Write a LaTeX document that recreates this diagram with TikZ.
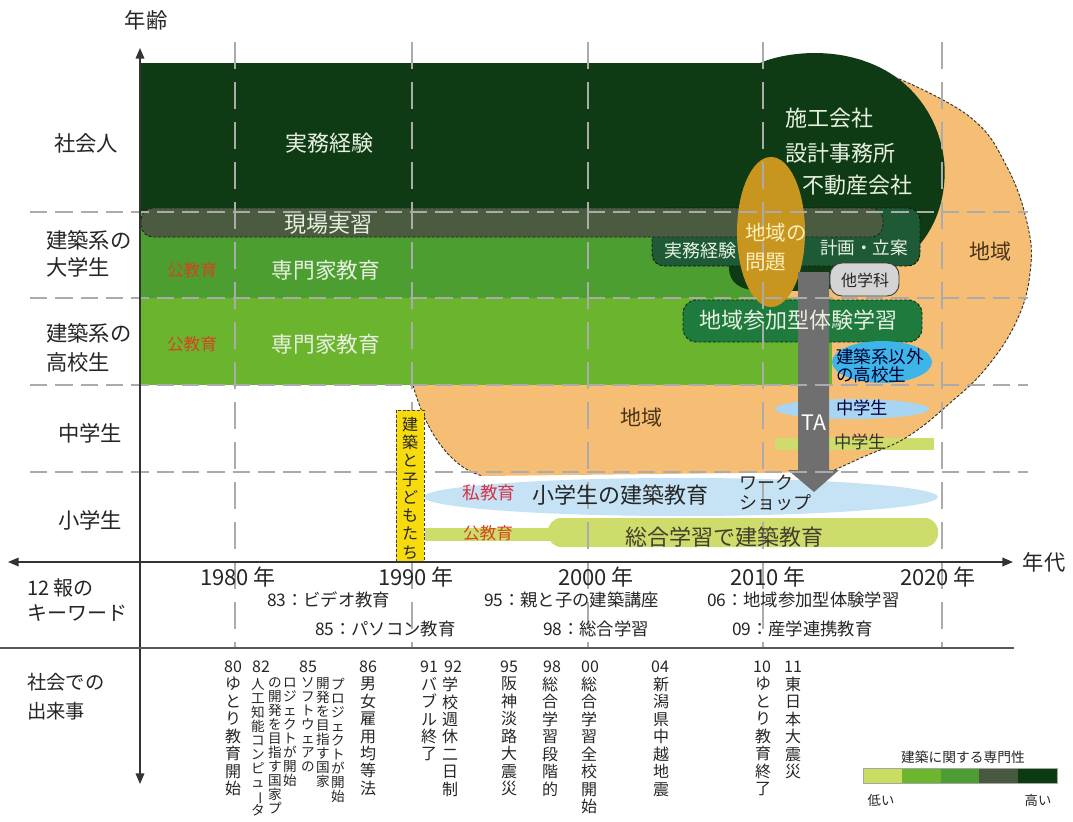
\documentclass[tikz,border=0pt]{standalone}
\usepackage{fontspec}
\setmainfont{Noto Sans CJK JP}
\usepackage{graphicx}
\usetikzlibrary{arrows.meta}
\ExplSyntaxOn
\seq_new:N \l_vt_seq
\NewDocumentCommand\vtext{m}
 {
  \seq_clear:N \l_vt_seq
  \tl_map_inline:nn {#1}
   {
    \str_if_eq:nnTF {##1} {ー}
     { \seq_put_right:Nn \l_vt_seq { \raisebox{0pt}[0.8em][0.1em]{\rotatebox[origin=c]{-90}{ー}} } }
     { \seq_put_right:Nn \l_vt_seq {##1} }
   }
  \seq_use:Nn \l_vt_seq { \\ }
 }
\ExplSyntaxOff
\definecolor{dkg}{HTML}{0E3B14}
\definecolor{gensh}{HTML}{4A5B40}
\definecolor{jitsu}{HTML}{1E5A36}
\definecolor{midg}{HTML}{4C9E30}
\definecolor{ltg}{HTML}{6BB52E}
\definecolor{chiik}{HTML}{1F7A3E}
\definecolor{orng}{HTML}{F6BE74}
\definecolor{gold}{HTML}{C8961F}
\definecolor{arrg}{HTML}{6F6F6F}
\definecolor{blu}{HTML}{3DB5E8}
\definecolor{ltblu}{HTML}{A8D5F1}
\definecolor{paleblu}{HTML}{C6E3F6}
\definecolor{ylg}{HTML}{CDDC6A}
\definecolor{yel}{HTML}{F7DB0C}
\definecolor{redA}{HTML}{D2451E}
\definecolor{redB}{HTML}{D6334A}
\definecolor{wtxt}{HTML}{E8F0E2}
\definecolor{paley}{HTML}{FBEEBB}
\definecolor{gridc}{HTML}{ABABAB}
\definecolor{txt}{HTML}{262626}
\definecolor{axc}{HTML}{333333}
\definecolor{brtx}{HTML}{4A3418}
\definecolor{lg1}{HTML}{C9DD62}
\definecolor{lg2}{HTML}{6CB52F}
\definecolor{lg3}{HTML}{4C9D33}
\definecolor{lg4}{HTML}{475A3F}
\definecolor{lg5}{HTML}{0C3B12}
\tikzset{
  every node/.style={inner sep=0pt, outer sep=0pt},
  fz/.style={font=\fontsize{#1}{#1}\selectfont},
  gridh/.style={draw=gridc, line width=1.1pt, dash pattern=on 13pt off 6pt},
  gridv/.style={draw=gridc, line width=1.1pt, dash pattern=on 20pt off 10pt},
  bdr/.style={dash pattern=on 2.2pt off 1.4pt, line width=0.7pt},
  axisl/.style={draw=axc, line width=1.1pt},
  tip/.style={{Triangle[length=8pt,width=6.5pt]}-{Triangle[length=8pt,width=6.5pt]}},
  vcol/.style={align=center, anchor=north, text=txt, font=\fontsize{12pt}{13.1pt}\selectfont},
  vcols/.style={align=center, anchor=north, text=txt, font=\fontsize{10.2pt}{10.5pt}\selectfont},
  num/.style={text=txt, font=\fontsize{12pt}{12pt}\selectfont},
  kw/.style={text=txt, anchor=west, font=\fontsize{13pt}{13pt}\selectfont},
}
\begin{document}
\begin{tikzpicture}[x=0.75pt,y=-0.75pt]
\useasboundingbox (0,0) rectangle (1073,821);
\fill[white] (0,0) rectangle (1073,821);

% orange region
\fill[orng] (413,385) .. controls (425,430) and (450,468) .. (483,476) -- (830,472)
  -- plot[smooth, tension=0.7] coordinates {(830,472) (863,457) (907,437) (950,403) (987,367) (1017,320) (1030,273) (1028,227) (1007,167) (970,117) (897,78)}
  -- (800,120) -- (413,300) -- cycle;

% bands
\fill[midg] (140,212) rectangle (760,298);
\fill[ltg] (140,298) rectangle (832,385);
\fill[dkg] (140,63) rectangle (790,212);
\fill[dkg] (760,63) .. controls (785,52) and (850,42) .. (900,80)
  .. controls (935,108) and (948,150) .. (944,185)
  .. controls (940,225) and (918,255) .. (885,272)
  .. controls (860,285) and (830,291) .. (800,291)
  -- (752,290) .. controls (735,288) and (728,278) .. (729,265) -- (730,212) -- cycle;
\filldraw[fill=jitsu, draw=black!70!jitsu, bdr, rounded corners=9pt] (652,208) rectangle (920,266);
\filldraw[fill=gensh, draw=black!60!gensh, bdr, rounded corners=9pt] (141,208) rectangle (883,237);
\filldraw[fill=chiik, draw=black!60!chiik, bdr, rounded corners=10pt] (683,300) rectangle (922,342);
\fill[gold] (771,232) ellipse [x radius=34, y radius=75];
\filldraw[fill=black!17, draw=black!75, line width=0.7pt, rounded corners=9pt] (830,263) rectangle (899,296);
\fill[blu] (882,362) ellipse [x radius=50, y radius=21];
\fill[ltblu] (852,409) ellipse [x radius=77, y radius=10];
\fill[ylg] (775,438) rectangle (934,450);

% orange borders
\draw[bdr, black!80] (413,385) .. controls (425,430) and (450,468) .. (483,476);
\draw[bdr, black!80] plot[smooth, tension=0.7] coordinates {(830,472) (863,457) (907,437) (950,403) (987,367) (1017,320) (1030,273) (1028,227) (1007,167) (970,117) (897,78)};

% elementary
\fill[paleblu] (681,497) ellipse [x radius=257, y radius=19];
\fill[ylg] (425,528) rectangle (560,541);
\fill[ylg, rounded corners=10pt] (548,518) rectangle (938,547);

% TA arrow
\fill[arrg] (798,272) -- (829,272) -- (829,470) -- (839,470) -- (814,492) -- (788,470) -- (798,470) -- cycle;

% grid
\foreach \y in {212,298,385,472} \draw[gridh] (30,\y) -- (1028,\y);
\foreach \x in {235,412,588,763,942} \draw[gridv] (\x,42) -- (\x,648);

% yellow box
\filldraw[fill=yel, draw=black!75, bdr] (396,410) rectangle (424,562);

% axes
\coordinate (ytop) at (140,48);
\coordinate (ybot) at (140,784);
\coordinate (xl) at (8,562);
\coordinate (xr) at (1013,562);
\coordinate (s1) at (0,648);
\coordinate (s2) at (1014,648);
\draw[axisl, tip] (ybot) -- (ytop);
\draw[axisl, tip] (xl) -- (xr);
\draw[axisl, black!65] (s1) -- (s2);

% axis labels
\node (yl) [fz=16pt, text=txt] at (146,20) {年齢};
\node (xlab) [fz=16pt, text=txt] at (1044,562) {年代};

% row labels
\node (r1) [fz=16pt, text=txt] at (86,143) {社会人};
\node (r2) [anchor=west, align=left, text=txt, font=\fontsize{16pt}{20.5pt}\selectfont] at (46,254) {建築系の\\大学生};
\node (r3) [anchor=west, align=left, text=txt, font=\fontsize{16pt}{21.5pt}\selectfont] at (46,348) {建築系の\\高校生};
\node (r4) [fz=16pt, text=txt] at (90,433) {中学生};
\node (r5) [fz=16pt, text=txt] at (90,520) {小学生};

% texts in bands
\node (jm1) [fz=16.5pt, text=wtxt] at (329,143) {実務経験};
\node (gj) [fz=16.5pt, text=wtxt] at (328,224) {現場実習};
\node (sk1) [fz=16.25pt, text=wtxt] at (326,270) {専門家教育};
\node (sk2) [fz=16.25pt, text=wtxt] at (326,344) {専門家教育};
\node (kk1) [fz=12.5pt, text=redA] at (192,270) {公教育};
\node (kk2) [fz=12.5pt, text=redA] at (192,344) {公教育};
\node (c1) [fz=16.5pt, text=wtxt, anchor=west] at (785,118) {施工会社};
\node (c2) [fz=16.5pt, text=wtxt, anchor=west] at (785,153) {設計事務所};
\node (c3) [fz=16.5pt, text=wtxt, anchor=west] at (802,185) {不動産会社};
\node (mon) [anchor=west, align=left, text=paley, font=\fontsize{15.4pt}{21.75pt}\selectfont] at (745,247.5) {地域の\\問題};
\node (kei) [fz=13.2pt, text=wtxt] at (864,248) {計画・立案};
\node (jm2) [fz=13.5pt, text=wtxt] at (700,251) {実務経験};
\node (ta) [fz=12pt, text=txt] at (865,280) {他学科};
\node (ch1) [fz=15.75pt, text=brtx] at (990,252) {地域};
\node (sanka) [fz=16.5pt, text=wtxt] at (798,320) {地域参加型体験学習};
\node (nonarch) [anchor=west, align=left, text=black!80!blue, font=\fontsize{13.2pt}{11.5pt}\selectfont] at (836,365.5) {建築系以外\\の高校生};
\node (ms1) [fz=13pt, text=black!75!blue, anchor=west] at (836,408) {中学生};
\node (ms2) [fz=13pt, text=black!80!olive, anchor=west] at (834,442) {中学生};
\node (talab) [fz=16pt, text=white] at (814,423) {TA};
\node (ch2) [fz=15.75pt, text=brtx] at (641,418) {地域};
\node (shi) [fz=13.25pt, text=redB] at (489,493) {私教育};
\node (elem) [fz=16.5pt, text=txt] at (620,495) {小学生の建築教育};
\node (ws) [anchor=west, align=left, text=txt, font=\fontsize{13.5pt}{15pt}\selectfont] at (739,493) {ワーク\\ショップ};
\node (kk3) [fz=12.5pt, text=redA] at (488,533) {公教育};
\node (sogo) [fz=16.5pt, text=black!70!olive] at (724,537) {総合学習で建築教育};
\node (kodomo) [align=center, text=txt, font=\fontsize{12pt}{13.7pt}\selectfont] at (410,488) {\vtext{建築と子どもたち}};

% years
\node (y80) [fz=16.5pt, text=txt] at (238,577) {1980 年};
\node (y90) [fz=16.5pt, text=txt] at (416,577) {1990 年};
\node (y00) [fz=16.5pt, text=txt] at (596,577) {2000 年};
\node (y10) [fz=16.5pt, text=txt] at (768,577) {2010 年};
\node (y20) [fz=16.5pt, text=txt] at (938,577) {2020 年};

% keyword section
\node (kwlab) [anchor=west, align=left, text=txt, font=\fontsize{15pt}{19pt}\selectfont] at (27,600) {12 報の\\キーワード};
\node (k83) [kw] at (267,600) {83：ビデオ教育};
\node (k85) [kw] at (315,629) {85：パソコン教育};
\node (k95) [kw] at (484,600) {95：親と子の建築講座};
\node (k98) [kw] at (543,629) {98：総合学習};
\node (k06) [kw] at (707,600) {06：地域参加型体験学習};
\node (k09) [kw] at (732,629) {09：産学連携教育};

% events
\node (evlab) [anchor=west, align=left, text=txt, font=\fontsize{14.5pt}{22pt}\selectfont] at (27,697) {社会での\\出来事};
\node (n80) [num] at (233,667) {80};
\node (e80) [vcol] at (233,677) {\vtext{ゆとり教育開始}};
\node (n82) [num] at (261,667) {82};
\node (e82a) [vcols] at (258,678) {\vtext{人工知能コンピュータ}};
\node (e82b) [vcols] at (275,678) {\vtext{の開発を目指す国家プ}};
\node (e82c) [vcols] at (290,678) {\vtext{ロジェクトが開始}};
\node (n85) [num] at (308,667) {85};
\node (e85a) [vcols] at (308,678) {\vtext{ソフトウェアの}};
\node (e85b) [vcols] at (323,678) {\vtext{開発を目指す国家}};
\node (e85c) [vcols] at (338,678) {\vtext{プロジェクトが開始}};
\node (n86) [num] at (368,667) {86};
\node (e86) [vcol] at (368,677) {\vtext{男女雇用均等法}};
\node (n91) [num] at (429,667) {91};
\node (e91) [vcol] at (429,677) {\vtext{バブル終了}};
\node (n92) [num] at (453,667) {92};
\node (e92) [vcol] at (450,677) {\vtext{学校週休二日制}};
\node (n95) [num] at (509,667) {95};
\node (e95) [vcol] at (509,677) {\vtext{阪神淡路大震災}};
\node (n98) [num] at (552,667) {98};
\node (e98) [vcol] at (550,677) {\vtext{総合学習段階的}};
\node (n00) [num] at (590,667) {00};
\node (e00) [vcol] at (589,677) {\vtext{総合学習全校開始}};
\node (n04) [num] at (660,667) {04};
\node (e04) [vcol] at (661,677) {\vtext{新潟県中越地震}};
\node (n10) [num] at (762,667) {10};
\node (e10) [vcol] at (763,677) {\vtext{ゆとり教育終了}};
\node (n11) [num] at (793,667) {11};
\node (e11) [vcol] at (793,677) {\vtext{東日本大震災}};

% legend
\node (legt) [fz=10.3pt, text=txt] at (963,757) {建築に関する専門性};
\fill[lg1] (863,768) rectangle (902,783);
\fill[lg2] (902,768) rectangle (941,783);
\fill[lg3] (941,768) rectangle (979,783);
\fill[lg4] (979,768) rectangle (1018,783);
\fill[lg5] (1018,768) rectangle (1057,783);
\draw[black!35, line width=0.5pt] (863,768) rectangle (1057,783);
\node (low) [fz=10pt, text=txt] at (881,800) {低い};
\node (high) [fz=10pt, text=txt] at (1038,800) {高い};
\end{tikzpicture}
\end{document}
